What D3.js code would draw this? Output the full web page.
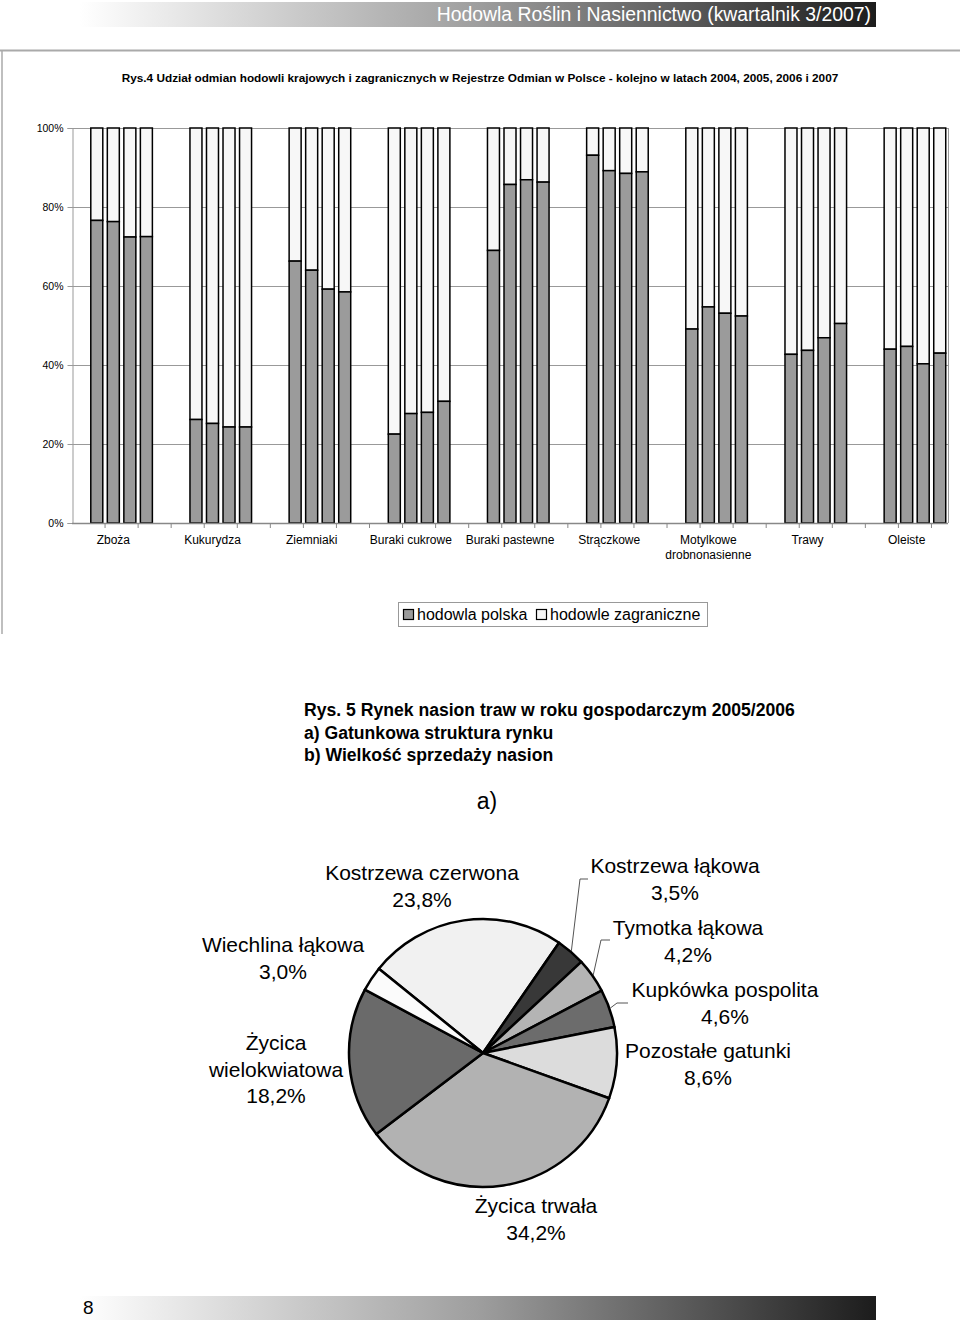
<!DOCTYPE html>
<html>
<head>
<meta charset="utf-8">
<script src="https://cdn.jsdelivr.net/npm/d3@7"></script>
<style>
  body { margin: 0; background: #fff; }
  svg { display: block; font-family: "Liberation Sans", Arial, sans-serif; }
</style>
</head>
<body>
<div id="chart"></div>
<script>
const width = 960
const height = 1326

// dane - wykres słupkowy (udział hodowli polskiej w %)
const categories = ["Zboża", "Kukurydza", "Ziemniaki", "Buraki cukrowe", "Buraki pastewne",
  "Strączkowe", "Motylkowe\ndrobnonasienne", "Trawy", "Oleiste"]
const years = ["2004", "2005", "2006", "2007"]
const polishShare = [
  [76.6, 76.3, 72.4, 72.5],
  [26.2, 25.2, 24.3, 24.3],
  [66.3, 64.0, 59.2, 58.5],
  [22.5, 27.7, 28.0, 30.8],
  [69.0, 85.7, 86.9, 86.3],
  [93.1, 89.2, 88.5, 88.9],
  [49.1, 54.7, 53.1, 52.4],
  [42.7, 43.7, 46.9, 50.5],
  [44.0, 44.7, 40.3, 43.0]
]
const yTicks = [0, 20, 40, 60, 80, 100]
const seriesNames = ["hodowla polska", "hodowle zagraniczne"]

// dane - wykres kołowy
const species = ["Kostrzewa czerwona", "Kostrzewa łąkowa", "Tymotka łąkowa", "Kupkówka pospolita",
  "Pozostałe gatunki", "Życica trwała", "Życica wielokwiatowa", "Wiechlina łąkowa"]
const speciesShare = [23.8, 3.5, 4.2, 4.6, 8.6, 34.2, 18.2, 3.0]

const svg = d3.select("#chart").append("svg")
  .attr("width", width)
  .attr("height", height)

const defs = svg.append("defs")
const grad = defs.append("linearGradient").attr("id", "band")
grad.append("stop").attr("offset", "0%").attr("stop-color", "#ffffff")
grad.append("stop").attr("offset", "50%").attr("stop-color", "#9e9e9e")
grad.append("stop").attr("offset", "100%").attr("stop-color", "#1c1c1c")

// nagłówek i stopka
svg.append("rect").attr("x", 80).attr("y", 2).attr("width", 796).attr("height", 25).attr("fill", "url(#band)")
svg.append("text").attr("x", 871).attr("y", 21).attr("text-anchor", "end")
  .attr("fill", "#fff").style("font-size", "19.4px")
  .text("Hodowla Roślin i Nasiennictwo (kwartalnik 3/2007)")

svg.append("rect").attr("x", 80).attr("y", 1296).attr("width", 796).attr("height", 24).attr("fill", "url(#band)")
svg.append("text").attr("x", 83).attr("y", 1314).style("font-size", "19px").text("8")

// ramka wykresu
svg.append("line").attr("x1", 0).attr("x2", 960).attr("y1", 50.5).attr("y2", 50.5)
  .attr("stroke", "#aaa").attr("stroke-width", 2)
svg.append("line").attr("x1", 2).attr("x2", 2).attr("y1", 50).attr("y2", 634)
  .attr("stroke", "#aaa").attr("stroke-width", 1.5)

svg.append("text").attr("x", 480).attr("y", 82).attr("text-anchor", "middle")
  .style("font-size", "11.8px").style("font-weight", "bold")
  .text("Rys.4 Udział odmian hodowli krajowych i zagranicznych w Rejestrze Odmian w Polsce - kolejno w latach 2004, 2005, 2006 i 2007")

// skale
const slots = categories.length * 6 - 1
const x = d3.scaleLinear().domain([0, slots]).range([72, 948])
const y = d3.scaleLinear().domain([0, 100]).range([523, 128])
const slotW = x(1) - x(0)
const barW = 12

const plot = svg.append("g")

// siatka
plot.selectAll(".grid").data(yTicks.filter(d => d > 0)).enter().append("line")
  .attr("x1", 72).attr("x2", 948)
  .attr("y1", d => Math.round(y(d)) + 0.5).attr("y2", d => Math.round(y(d)) + 0.5)
  .attr("stroke", "#999")

const yAxis = d3.axisLeft(y).tickValues(yTicks).tickFormat(d => d + "%").tickSize(5).tickPadding(4)
const yAxisGroup = plot.append("g").attr("transform", "translate(72.5,0)").call(yAxis)
yAxisGroup.select(".domain").attr("stroke", "#999")
yAxisGroup.selectAll("line").attr("stroke", "#999")
yAxisGroup.selectAll("text").style("font-size", "10.5px").style("font-family", "Liberation Sans, Arial")

plot.append("line").attr("x1", 948.5).attr("x2", 948.5).attr("y1", y(100)).attr("y2", y(0)).attr("stroke", "#999")

// słupki
const bars = []
polishShare.forEach((vals, g) => {
  vals.forEach((v, j) => bars.push({ g, j, v, slot: g * 6 + 1 + j }))
})

const barG = plot.selectAll(".bar").data(bars).enter().append("g")
barG.append("rect")
  .attr("x", d => x(d.slot) + (slotW - barW) / 2)
  .attr("y", y(100))
  .attr("width", barW)
  .attr("height", d => y(d.v) - y(100))
  .attr("fill", "#f7f7f7").attr("stroke", "#000").attr("stroke-width", 1.5)
barG.append("rect")
  .attr("x", d => x(d.slot) + (slotW - barW) / 2)
  .attr("y", d => y(d.v))
  .attr("width", barW)
  .attr("height", d => y(0) - y(d.v))
  .attr("fill", "#9b9b9b").attr("stroke", "#000").attr("stroke-width", 1.5)

// oś X
plot.append("line").attr("x1", 72).attr("x2", 948).attr("y1", y(0) + 0.5).attr("y2", y(0) + 0.5)
  .attr("stroke", "#888").attr("stroke-width", 1.5)
plot.selectAll(".xt").data(d3.range(2, slots + 1, 2)).enter().append("line")
  .attr("x1", d => x(d)).attr("x2", d => x(d))
  .attr("y1", y(0)).attr("y2", y(0) + 5).attr("stroke", "#888")

const catLabels = plot.selectAll(".cat").data(categories).enter().append("text")
  .attr("x", (d, i) => x(i * 6 + 2.5))
  .attr("y", 544)
  .attr("text-anchor", "middle")
  .style("font-size", "12px")
catLabels.selectAll("tspan").data(d => d.split("\n")).enter().append("tspan")
  .attr("x", function () { return this.parentNode.getAttribute("x") })
  .attr("dy", (d, i) => i ? 15 : 0)
  .text(d => d)

// legenda
const legend = svg.append("g")
legend.append("rect").attr("x", 398.5).attr("y", 602.5).attr("width", 309).attr("height", 24)
  .attr("fill", "#fff").attr("stroke", "#999")
const legendX = [403, 536]
const legendFill = ["#9b9b9b", "#f7f7f7"]
seriesNames.forEach((s, i) => {
  legend.append("rect").attr("x", legendX[i] + 0.5).attr("y", 609.5).attr("width", 10).attr("height", 10)
    .attr("fill", legendFill[i]).attr("stroke", "#000").attr("stroke-width", 1.2)
  legend.append("text").attr("x", legendX[i] + 14).attr("y", 620).style("font-size", "16px").text(s)
})

// Rys. 5
const cap = svg.append("text").attr("x", 304).style("font-size", "17.6px").style("font-weight", "bold")
const capLines = ["Rys. 5 Rynek nasion traw w roku gospodarczym 2005/2006", "a) Gatunkowa struktura rynku", "b) Wielkość sprzedaży nasion"]
capLines.forEach((t, i) => cap.append("tspan").attr("x", 304).attr("y", 716 + i * 22.5).text(t))

svg.append("text").attr("x", 487).attr("y", 809).attr("text-anchor", "middle").style("font-size", "23px").text("a)")

// wykres kołowy
const cx = 483, cy = 1053, r = 134
const sliceColors = ["#f1f1f1", "#383838", "#b4b4b4", "#6c6c6c", "#dcdcdc", "#b2b2b2", "#6a6a6a", "#fbfbfb"]
const start = -51 * Math.PI / 180
const pie = d3.pie().sort(null).value(d => d).startAngle(start).endAngle(start + 2 * Math.PI)
const arc = d3.arc().innerRadius(0).outerRadius(r)
const arcs = pie(speciesShare)

const pieG = svg.append("g").attr("transform", `translate(${cx},${cy})`)
pieG.selectAll("path").data(arcs).enter().append("path")
  .attr("d", arc)
  .attr("fill", (d, i) => sliceColors[i])
  .attr("stroke", "#000").attr("stroke-width", 2.5).attr("stroke-linejoin", "round")

// etykiety: pozycje [x środka, y linii bazowej], linie odniesienia [zagięcie x,y, koniec x]
const labelPos = [
  [422, 880], [675, 873], [688, 935], [725, 997], [708, 1058], [536, 1213], [276, 1050], [283, 952]
]
const leaders = { 1: [580, 879, 588], 2: [601, 940, 610], 3: [617, 1003, 628] }

arcs.forEach((a, i) => {
  const pct = d3.format(".1f")(speciesShare[i]).replace(".", ",") + "%"
  let lines = [species[i], pct]
  if (species[i] === "Życica wielokwiatowa") lines = ["Życica", "wielokwiatowa", pct]
  const t = svg.append("text").attr("text-anchor", "middle").style("font-size", "21px")
  lines.forEach((l, k) => t.append("tspan").attr("x", labelPos[i][0]).attr("y", labelPos[i][1] + k * 26.5).text(l))
  if (leaders[i]) {
    const mid = (a.startAngle + a.endAngle) / 2
    const sx = cx + (r + 1) * Math.sin(mid), sy = cy - (r + 1) * Math.cos(mid)
    const L = leaders[i]
    svg.append("polyline")
      .attr("points", `${sx},${sy} ${L[0]},${L[1]} ${L[2]},${L[1]}`)
      .attr("fill", "none").attr("stroke", "#555").attr("stroke-width", 1)
  }
})
</script>
</body>
</html>
